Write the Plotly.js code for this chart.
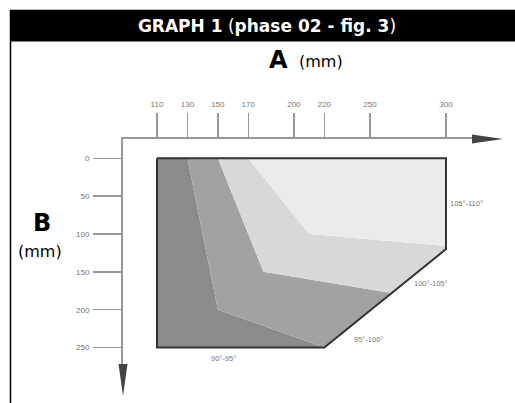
<!DOCTYPE html>
<html>
<head>
<meta charset="utf-8">
<script src="https://cdn.plot.ly/plotly-3.0.1.min.js"></script>
<style>html,body{margin:0;padding:0;background:#fff;}#chart{width:515px;height:403px;}</style>
</head>
<body>
<div id="chart"></div>
<script>
// ---- data ----
const xTicks = [110, 130, 150, 170, 200, 220, 250, 300];
const yTicks = [0, 50, 100, 150, 200, 250];
const regionNames = ['90°-95°', '95°-100°', '100°-105°', '105°-110°'];
const region1X = [110, 130, 150, 220, 110];
const region1Y = [0, 0, 200, 250, 250];
const region2X = [130, 150, 180, 264, 220, 150];
const region2Y = [0, 0, 150, 178, 250, 200];
const region3X = [150, 170, 210, 300, 300, 264, 180];
const region3Y = [0, 0, 100, 116, 120, 178, 150];
const region4X = [170, 300, 300, 210];
const region4Y = [0, 0, 116, 100];
const outlineX = [110, 300, 300, 220, 110, 110];
const outlineY = [0, 0, 120, 250, 250, 0];

// ---- layout geometry ----
const L = 123, T = 139, W = 350, H = 226;
const px = v => (v - L) / W;
const py = v => 1 - (v - T) / H;
const colors = ['#8b8b8b', '#a2a2a2', '#d8d8d8', '#ebebeb'];
const headFont = 'DejaVu Sans, Liberation Sans, Arial, sans-serif';

const regionsX = [region1X, region2X, region3X, region4X];
const regionsY = [region1Y, region2Y, region3Y, region4Y];
const traces = regionsX.map((rx, i) => ({
  type: 'scatter', mode: 'lines', x: rx, y: regionsY[i], fill: 'toself',
  fillcolor: colors[i], line: {width: 0, color: colors[i]}, name: regionNames[i],
  hoverinfo: 'skip', showlegend: false
}));
traces.push({type: 'scatter', mode: 'lines', x: outlineX, y: outlineY,
  line: {color: '#333', width: 2}, hoverinfo: 'skip', showlegend: false});

const labelPos = [[154, 264, 'center'], [249, 239, 'center'], [290, 165, 'center'], [301.5, 60, 'left']];
const annotations = regionNames.map((t, i) => ({
  x: labelPos[i][0], y: labelPos[i][1], xref: 'x', yref: 'y', text: t, showarrow: false,
  xanchor: labelPos[i][2], yanchor: 'middle',
  font: {family: 'Liberation Sans, Arial, sans-serif', size: 7.5, color: '#777'}
}));
annotations.push(
  {xref: 'paper', yref: 'paper', x: px(278), y: py(60), text: '<b>A</b>', showarrow: false,
   xanchor: 'center', yanchor: 'middle', font: {family: headFont, size: 24, color: '#000'}},
  {xref: 'paper', yref: 'paper', x: px(297), y: py(61), text: '(mm)', showarrow: false,
   xanchor: 'left', yanchor: 'middle', font: {family: headFont, size: 16, color: '#000'}},
  {xref: 'paper', yref: 'paper', x: px(42), y: py(223), text: '<b>B</b>', showarrow: false,
   xanchor: 'center', yanchor: 'middle', font: {family: headFont, size: 24, color: '#000'}},
  {xref: 'paper', yref: 'paper', x: px(40), y: py(251), text: '(mm)', showarrow: false,
   xanchor: 'center', yanchor: 'middle', font: {family: headFont, size: 16, color: '#000'}}
);

const shapes = [
  {type: 'line', xref: 'paper', yref: 'paper', x0: px(10), x1: px(516), y0: py(9.5), y1: py(9.5),
   line: {color: '#bbb', width: 1}},
  {type: 'rect', xref: 'paper', yref: 'paper', x0: px(10), x1: px(516), y0: py(10), y1: py(41.5),
   fillcolor: '#000', line: {width: 0}, layer: 'above'},
  {type: 'line', xref: 'paper', yref: 'paper', x0: px(10.5), x1: px(10.5), y0: py(10), y1: py(404),
   line: {color: '#000', width: 1.5}},
  {type: 'path', xref: 'paper', yref: 'paper',
   path: `M ${px(472)} ${py(139)} L ${px(472)} ${py(134.5)} L ${px(503)} ${py(139)} L ${px(472)} ${py(143.5)} Z`,
   fillcolor: '#444', line: {width: 0}},
  {type: 'path', xref: 'paper', yref: 'paper',
   path: `M ${px(123)} ${py(364)} L ${px(118.5)} ${py(364)} L ${px(123)} ${py(396)} L ${px(127.5)} ${py(364)} Z`,
   fillcolor: '#444', line: {width: 0}}
];

const axisFont = {family: 'Liberation Sans Narrow, Arial Narrow, sans-serif', size: 8, color: '#777'};
const layout = {
  width: 515, height: 403,
  margin: {l: L, t: T, r: 515 - L - W, b: 403 - T - H, pad: 0},
  paper_bgcolor: '#fff', plot_bgcolor: '#fff',
  title: {text: '<b>GRAPH 1</b> (<b>phase 02 - fig. 3</b>)', x: 267 / 515, xanchor: 'center',
    y: 1 - 26.5 / 403, yanchor: 'middle', yref: 'container',
    font: {family: headFont, size: 17, color: '#fff'}},
  xaxis: {side: 'top', range: [87.65, 317.76], tickvals: xTicks, ticktext: xTicks.map(String),
    ticks: 'outside', ticklen: 24, tickwidth: 1.5, tickcolor: '#999', showline: true,
    linecolor: '#999', linewidth: 2, showgrid: false, zeroline: false, tickfont: axisFont,
    ticklabelstandoff: 3, fixedrange: true},
  yaxis: {range: [273.05, -25.5], tickvals: yTicks, ticktext: yTicks.map(String),
    ticks: 'outside', ticklen: 28, tickwidth: 1.5, tickcolor: '#999', showline: true,
    linecolor: '#999', linewidth: 2, showgrid: false, zeroline: false, tickfont: axisFont,
    ticklabelstandoff: 2, fixedrange: true},
  shapes: shapes,
  annotations: annotations,
  showlegend: false
};
Plotly.newPlot('chart', traces, layout, {staticPlot: true, displayModeBar: false});
</script>
</body>
</html>
